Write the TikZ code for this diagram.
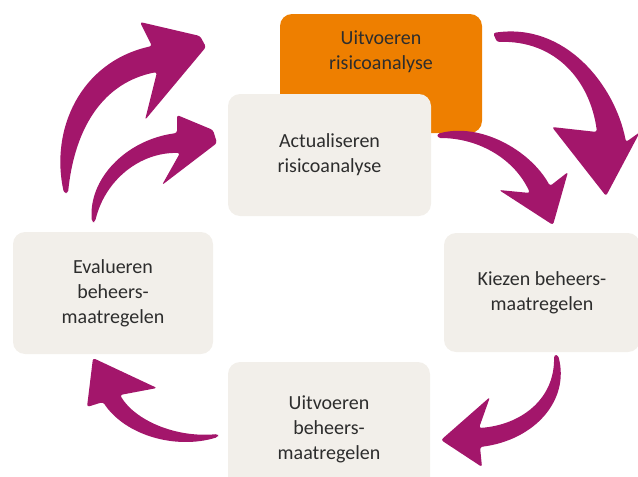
\documentclass[tikz,border=0pt]{standalone}
\usepackage{fontspec}
\setmainfont{Carlito}
\definecolor{beige}{RGB}{242,239,234}
\definecolor{oranje}{RGB}{238,127,0}
\definecolor{paars}{RGB}{163,22,107}
\definecolor{tekst}{RGB}{45,45,45}
\begin{document}
\begin{tikzpicture}[x=1pt,y=-1pt,
  box/.style={fill=beige, rounded corners=12pt, inner sep=0pt, align=center, text=tekst, font=\fontsize{20}{25}\selectfont},
  lbl/.style={inner sep=0pt, align=center, text=tekst, font=\fontsize{20}{25}\selectfont},
  pijl/.style={fill=paars, rounded corners=2.5pt}]
\useasboundingbox (0,0) rectangle (638,477);
\clip (0,0) rectangle (638,477);
% boxes
\node[box, fill=oranje, minimum width=202pt, minimum height=119pt] (uitvr) at (381,73.5) {};
\node[lbl] (uitvrtxt) at (381,52) {Uitvoeren\\risicoanalyse};
\node[box, minimum width=203pt, minimum height=122pt] (act) at (329.5,155) {Actualiseren\\risicoanalyse};
\node[box, minimum width=200pt, minimum height=122pt] (eval) at (113,293) {Evalueren\\beheers-\\maatregelen};
\node[box, minimum width=196pt, minimum height=119pt] (kiez) at (542,292.5) {Kiezen beheers-\\maatregelen};
\node[box, minimum width=202pt, minimum height=134pt] (uitvb) at (329,429) {Uitvoeren\\beheers-\\maatregelen};
% arrows
% A1 big top-left
\fill[pijl] (64,193) .. controls (50,130) and (80,62) .. (152,46) -- (140,22) -- (200,36) -- (206,47) -- (145,120) -- (157,72) .. controls (105,82) and (75,125) .. (68,193) -- cycle;
% A2 small top-left
\fill[pijl] (92,222) .. controls (88,180) and (125,140) .. (177,133) -- (177,115) -- (213,130) -- (217,143) -- (162,185) -- (180,153) .. controls (140,152) and (105,180) .. (95,222) -- cycle;
% A3 big top-right
\fill[pijl] (493,33) .. controls (565,22) and (615,85) .. (626,142) -- (640,132) -- (606,196) -- (552,127) -- (597,132) .. controls (590,80) and (555,40) .. (497,42) -- cycle;
% A4 small top-right
\fill[pijl] (437,134) .. controls (480,122) and (530,150) .. (550,186) -- (568,172) -- (553,225) -- (499,190) -- (530,193) .. controls (515,160) and (480,138) .. (438,138) -- cycle;
% A5 bottom-right
\fill[pijl] (558,355) .. controls (570,400) and (535,440) .. (480,447) -- (482,467) -- (441,440) -- (490,397) -- (479,428) .. controls (520,425) and (555,400) .. (554,355) -- cycle;
% A6 bottom-left
\fill[pijl] (218,437) .. controls (175,450) and (125,435) .. (103,402) -- (87,407) -- (93,358) -- (157,388) -- (120,395) .. controls (135,420) and (175,438) .. (218,434) -- cycle;
\end{tikzpicture}
\end{document}
